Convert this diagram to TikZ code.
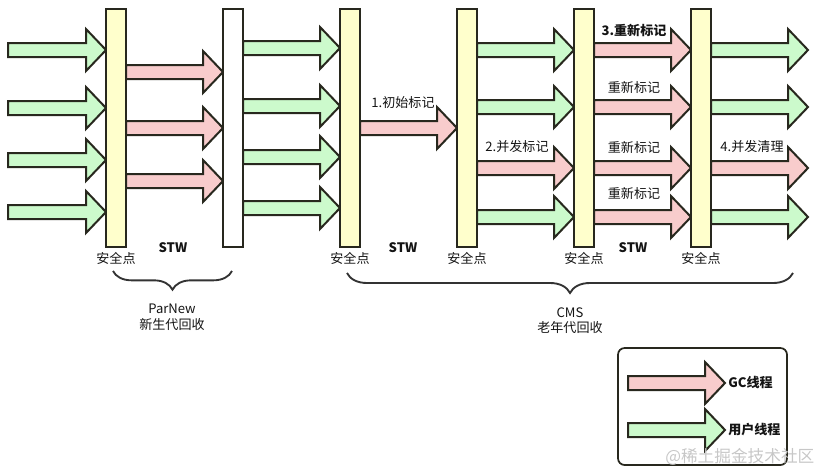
\documentclass[tikz,border=0pt]{standalone}
\usepackage{fontspec}
\setmainfont{Noto Sans CJK SC}
\usetikzlibrary{decorations.pathreplacing}
\definecolor{gfill}{RGB}{204,250,204}
\definecolor{rfill}{RGB}{248,204,204}
\definecolor{yfill}{RGB}{255,255,204}
\definecolor{edgec}{RGB}{40,40,30}
\newcommand\fatarr[4]{%
  \filldraw[#4] (#1,#3-7) -- (#2-20,#3-7) -- (#2-20,#3-21) -- (#2,#3) -- (#2-20,#3+21) -- (#2-20,#3+7) -- (#1,#3+7) -- cycle;}
\tikzset{
  garr/.style={fill=gfill, draw=edgec, line width=1.5pt, line join=miter},
  rarr/.style={fill=rfill, draw=edgec, line width=1.5pt, line join=miter},
  barbox/.style={fill=yfill, draw=edgec, line width=1.5pt},
  whitebar/.style={fill=white, draw=edgec, line width=1.5pt},
  lbl/.style={font=\fontsize{9.8}{11}\selectfont, inner sep=0pt, text=black!92},
  blbl/.style={font=\fontsize{9.8}{11}\selectfont\bfseries, inner sep=0pt, text=black!92},
  bracec/.style={draw=black!80, line width=1.4pt, decorate},
}
\begin{document}
\begin{tikzpicture}[x=0.75pt, y=-0.75pt]
\useasboundingbox (0,0) rectangle (822,475);
% section 1: user threads
\foreach \y in {50,108,160,212} {\fatarr{8}{106}{\y}{garr}}
% section 2: ParNew GC
\foreach \y in {72,128,181} {\fatarr{126}{223}{\y}{rarr}}
% section 3
\foreach \y in {48,106,157,208} {\fatarr{243}{340}{\y}{garr}}
% section 4
\fatarr{360}{457}{128}{rarr}
% section 5
\fatarr{477}{574}{50}{garr}
\fatarr{477}{574}{107}{garr}
\fatarr{477}{574}{168}{rarr}
\fatarr{477}{574}{217}{garr}
% section 6
\foreach \y in {50,107,168,217} {\fatarr{594}{691}{\y}{rarr}}
% section 7
\fatarr{711}{808}{50}{garr}
\fatarr{711}{808}{107}{garr}
\fatarr{711}{808}{168}{rarr}
\fatarr{711}{808}{217}{garr}
% bars
\foreach \x in {106,340,457,574,691} {\draw[barbox] (\x,9) rectangle (\x+20,247);}
\draw[whitebar] (223,9) rectangle (243,247);
% labels over arrows
\node[lbl] (l1) at (403,103) {1.初始标记};
\node[lbl] (l2) at (517,147) {2.并发标记};
\node[blbl] (l3) at (634,30) {3.重新标记};
\node[lbl] (l3b) at (634,87) {重新标记};
\node[lbl] (l3c) at (634,147) {重新标记};
\node[lbl] (l3d) at (634,193) {重新标记};
\node[lbl] (l4) at (752,147) {4.并发清理};
% safe points
\node[lbl] (s1) at (116,258) {安全点};
\node[lbl] (s3) at (350,258) {安全点};
\node[lbl] (s4) at (467,258) {安全点};
\node[lbl] (s5) at (584,258) {安全点};
\node[lbl] (s6) at (701,258) {安全点};
% STW
\node[blbl] (w1) at (173,248) {STW};
\node[blbl] (w2) at (403,248) {STW};
\node[blbl] (w3) at (633,248) {STW};
% braces
\draw[bracec, decoration={brace, mirror, amplitude=14pt}] (113,271) -- (232,271);
\draw[bracec, decoration={brace, mirror, amplitude=15pt}] (347,273) -- (793,273);
\node[lbl] (p1) at (172,309) {ParNew};
\node[lbl] (p2) at (172,325) {新生代回收};
\node[lbl] (c1) at (570,313) {CMS};
\node[lbl] (c2) at (570,328) {老年代回收};
% legend
\draw[draw=edgec, line width=1.3pt, rounded corners=5pt] (618,348) rectangle (787,465);
\fatarr{628}{725}{383}{rarr}
\fatarr{628}{725}{430}{garr}
\node[blbl, anchor=west] (g1) at (728,383) {GC线程};
\node[blbl, anchor=west] (g2) at (728,430) {用户线程};
% watermark
\node[font=\fontsize{12.5}{14}\selectfont, text=black!22, anchor=west, inner sep=0pt] (wm) at (665,457) {@稀土掘金技术社区};
\end{tikzpicture}
\end{document}
